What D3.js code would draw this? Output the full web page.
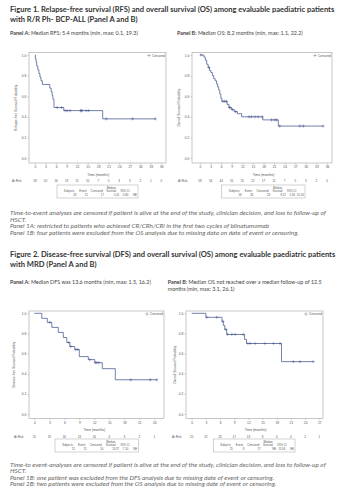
<!DOCTYPE html>
<html>
<head>
<meta charset="utf-8">
<script src="https://cdn.jsdelivr.net/npm/d3@7"></script>
<style>
  body { margin: 0; background: #fff; }
  svg { display: block; }
</style>
</head>
<body>
<svg id="chart" width="353" height="500"></svg>
<script>
// Kaplan-Meier panels, two figures with two panels each

// ---- data ----
const yTicks = [0, 0.2, 0.4, 0.6, 0.8, 1.0];
const fig1Ticks = [0, 3, 6, 9, 12, 15, 18, 21, 24, 27, 30, 33, 36];
const fig2aTicks = [0, 3, 6, 9, 12, 15, 18, 21, 24];
const fig2bTicks = [0, 3, 6, 9, 12, 15, 18, 21, 24, 27];

// Figure 1 A - relapse-free survival
const rfsTime = [0, 0.1, 0.3, 0.5, 0.8, 1.1, 1.4, 1.7, 2.1, 4.2, 4.6, 4.9, 5.1, 5.4, 8.2, 19.3];
const rfsSurv = [1, 0.964, 0.929, 0.893, 0.857, 0.821, 0.786, 0.75, 0.714, 0.679, 0.643, 0.607, 0.571, 0.49, 0.46, 0.38];
const rfsCensor = [6.3, 7.6, 8.6, 9.2, 10.0, 13.0, 13.2, 13.4, 14.6, 15.3, 20.3, 27.8, 34.3];
const rfsAtRisk = [28, 20, 16, 13, 11, 10, 7, 5, 3, 3, 2, 1, 0];
const rfsTable = ['28', '11', '17', '5.41', '0.80', 'NE'];

// Figure 1 B - overall survival
const os1Time = [0, 1.1, 1.5, 1.9, 2.3, 2.7, 3.1, 3.5, 3.9, 4.3, 4.7, 5.0, 5.3, 5.6, 5.9, 6.2, 7.7, 8.2, 8.9, 9.7, 10.6, 11.8, 17.8, 22.2];
const os1Surv = [1, 0.98, 0.95, 0.91, 0.88, 0.85, 0.83, 0.80, 0.77, 0.75, 0.72, 0.69, 0.66, 0.62, 0.58, 0.55, 0.52, 0.49, 0.47, 0.45, 0.43, 0.40, 0.37, 0.31];
const os1Censor = [0.3, 2.5, 6.5, 7.0, 7.5, 8.4, 8.5, 9.2, 10.1, 13.9, 14.6, 15.6, 16.5, 17.6, 20.3, 21.2, 21.7, 22.6, 28.3, 29.3, 34.9];
const os1AtRisk = [58, 54, 44, 31, 25, 22, 17, 11, 7, 5, 3, 2, 0];
const os1Table = ['58', '35', '23', '8.21', '5.80', '15.03'];

// Figure 2 A - disease-free survival
const dfsTime = [0, 1.5, 2.6, 3.5, 4.8, 5.8, 6.5, 7.1, 8.1, 9.0, 10.8, 12.1, 13.6, 16.2];
const dfsSurv = [1, 0.95, 0.91, 0.86, 0.81, 0.76, 0.71, 0.67, 0.64, 0.57, 0.54, 0.51, 0.45, 0.34];
const dfsCensor = [3.1, 6.9, 7.3, 8.3, 8.7, 11.1, 12.2, 12.5, 12.9, 19.3, 23.2, 24.5];
const dfsAtRisk = [21, 19, 16, 13, 10, 6, 3, 2, 1];
const dfsTable = ['21', '11', '10', '13.57', '7.10', 'NE'];

// Figure 2 B - overall survival
const os2Time = [0, 3.0, 6.4, 6.7, 7.0, 7.4, 11.2, 11.6, 19.0];
const os2Surv = [1, 0.96, 0.92, 0.88, 0.84, 0.79, 0.74, 0.70, 0.52];
const os2Censor = [3.2, 5.3, 6.6, 7.2, 7.6, 8.5, 9.2, 10.9, 11.9, 12.4, 13.4, 15.5, 17.3, 18.7, 21.5, 22.9, 25.7];
const os2AtRisk = [25, 25, 23, 17, 13, 9, 6, 4, 2, 1];
const os2Table = ['25', '8', '17', 'NE', '11.84', 'NE'];

const tableHeader = ['Subjects', 'Event', 'Censored', 'Survival', '95% CI'];

// ---- drawing ----
const svg = d3.select('#chart');
const LINE = '#45558f';
const FRAME = '#8f8f8f';
const SMALL = '#555';
const SANS = 'Liberation Sans, Arial, sans-serif';
const BODY = 'Lato, "Open Sans", sans-serif';

svg.append('rect').attr('width', 353).attr('height', 500).attr('fill', '#fff');

// font size that makes a string span the given width
function fitSize(str, weight, style, target) {
    const t = svg.append('text')
        .attr('font-family', BODY)
        .attr('font-weight', weight)
        .attr('font-style', style)
        .attr('font-size', 10)
        .text(str);
    const w = t.node().getComputedTextLength();
    t.remove();
    return 10 * target / w;
}

function survAt(times, surv, t) {
    const i = d3.bisectRight(times, t) - 1;
    return surv[Math.max(0, i)];
}

function drawKM(p) {
    const g = svg.append('g');
    const x = d3.scaleLinear()
        .domain([p.ticks[0], p.ticks[p.ticks.length - 1]])
        .range(p.xr);
    const y = d3.scaleLinear().domain([0, 1]).range(p.yr);
    const [fx0, fy0, fx1, fy1] = p.frame;

    g.append('rect')
        .attr('x', fx0).attr('y', fy0)
        .attr('width', fx1 - fx0).attr('height', fy1 - fy0)
        .attr('fill', 'none')
        .attr('stroke', FRAME)
        .attr('stroke-width', 0.5);

    const xAxis = g.append('g')
        .attr('transform', `translate(0,${fy1})`)
        .call(d3.axisBottom(x).tickValues(p.ticks).tickSize(1.5).tickPadding(1.2));
    const yAxis = g.append('g')
        .attr('transform', `translate(${fx0},0)`)
        .call(d3.axisLeft(y).tickValues(yTicks).tickFormat(d3.format('.1f')).tickSize(1.5).tickPadding(1.2));
    [xAxis, yAxis].forEach(a => {
        a.select('.domain').remove();
        a.selectAll('line').attr('stroke', FRAME).attr('stroke-width', 0.4);
        a.selectAll('text')
            .attr('font-family', SANS)
            .attr('font-size', 3.3)
            .attr('fill', SMALL);
    });

    // step curve, carried to the last censored time
    const pts = p.time.map((t, i) => [t, p.surv[i]]);
    const tEnd = Math.max(d3.max(p.censor), p.time[p.time.length - 1]);
    pts.push([tEnd, p.surv[p.surv.length - 1]]);
    g.append('path')
        .attr('d', d3.line().x(d => x(d[0])).y(d => y(d[1])).curve(d3.curveStepAfter)(pts))
        .attr('fill', 'none')
        .attr('stroke', LINE)
        .attr('stroke-width', 0.75);

    // censor marks
    const cs = 1.6;
    const marks = g.selectAll('.cens')
        .data(p.censor)
        .enter().append('g')
        .attr('transform', t => `translate(${x(t)},${y(survAt(p.time, p.surv, t))})`);
    marks.append('line').attr('x1', -cs).attr('x2', cs)
        .attr('stroke', LINE).attr('stroke-width', 0.45);
    marks.append('line').attr('y1', -cs).attr('y2', cs)
        .attr('stroke', LINE).attr('stroke-width', 0.45);

    // legend
    const lg = g.append('g').attr('transform', `translate(${fx1 - 17},${fy0 + 3})`);
    lg.append('line').attr('x1', -1.8).attr('x2', 1.8).attr('stroke', '#666').attr('stroke-width', 0.4);
    lg.append('line').attr('y1', -1.8).attr('y2', 1.8).attr('stroke', '#666').attr('stroke-width', 0.4);
    lg.append('text').attr('x', 3).attr('y', 1)
        .attr('font-family', SANS).attr('font-size', 3).attr('fill', SMALL)
        .text('Censored');

    // axis titles
    g.append('text')
        .attr('transform', `translate(${p.ylabX},${(fy0 + fy1) / 2}) rotate(-90)`)
        .attr('text-anchor', 'middle')
        .attr('font-family', SANS).attr('font-size', 3.2).attr('fill', SMALL)
        .text(p.ylabel);
    g.append('text')
        .attr('x', (p.xr[0] + p.xr[1]) / 2)
        .attr('y', p.timeY)
        .attr('text-anchor', 'middle')
        .attr('font-family', SANS).attr('font-size', 3.4).attr('fill', SMALL)
        .text('Time (months)');

    // numbers at risk
    g.append('text')
        .attr('x', p.riskX).attr('y', p.riskY)
        .attr('font-family', SANS).attr('font-size', 3).attr('fill', SMALL)
        .text('At Risk');
    g.selectAll('.risk')
        .data(p.atRisk)
        .enter().append('text')
        .attr('x', (d, i) => x(p.ticks[i]))
        .attr('y', p.riskY)
        .attr('text-anchor', 'middle')
        .attr('font-family', SANS).attr('font-size', 3).attr('fill', SMALL)
        .text(d => d);

    // summary table
    const [bx0, by0, bx1, by1] = p.box;
    const bw = bx1 - bx0;
    g.append('rect')
        .attr('x', bx0).attr('y', by0)
        .attr('width', bw).attr('height', by1 - by0)
        .attr('fill', '#fff')
        .attr('stroke', FRAME).attr('stroke-width', 0.4);
    const hx = [0.15, 0.32, 0.49, 0.67, 0.84];
    g.append('text')
        .attr('x', bx0 + bw * 0.67).attr('y', by0 + 3.6)
        .attr('text-anchor', 'middle')
        .attr('font-family', SANS).attr('font-size', 2.8).attr('fill', SMALL)
        .text('Median');
    g.selectAll('.th')
        .data(tableHeader)
        .enter().append('text')
        .attr('x', (d, i) => bx0 + bw * hx[i])
        .attr('y', by0 + 7)
        .attr('text-anchor', 'middle')
        .attr('font-family', SANS).attr('font-size', 2.8).attr('fill', SMALL)
        .text(d => d);
    const vx = [0.24, 0.38, 0.58, 0.77, 0.88, 0.985];
    g.selectAll('.td')
        .data(p.table)
        .enter().append('text')
        .attr('x', (d, i) => bx0 + bw * vx[i])
        .attr('y', by0 + 10.6)
        .attr('text-anchor', 'end')
        .attr('font-family', SANS).attr('font-size', 2.8).attr('fill', SMALL)
        .text(d => d);
}

// ---- text blocks ----
const TITLE = '#333';
const title1 = ['Figure 1. Relapse-free survival (RFS) and overall survival (OS) among evaluable paediatric patients',
                'with R/R Ph- BCP-ALL (Panel A and B)'];
const title2 = ['Figure 2. Disease-free survival (DFS) and overall survival (OS) among evaluable paediatric patients',
                'with MRD (Panel A and B)'];
const titleSize = fitSize(title1[0], 700, 'normal', 325);

function drawTitle(lines, y0) {
    lines.forEach((s, i) => {
        svg.append('text')
            .attr('x', 10).attr('y', y0 + i * 10)
            .attr('font-family', BODY).attr('font-weight', 700)
            .attr('font-size', titleSize).attr('fill', TITLE)
            .text(s);
    });
}

const panelSize = fitSize('Panel A: Median RFS: 5.4 months (min, max: 0.1, 19.3)', 'normal', 'normal', 128);
function drawPanelLabel(x, y, head, rest) {
    const t = svg.append('text')
        .attr('x', x).attr('y', y)
        .attr('font-family', BODY).attr('font-size', panelSize).attr('fill', '#444');
    t.append('tspan').attr('font-weight', 700).text(head);
    t.append('tspan').text(rest);
}

const note1 = ['Time-to-event analyses are censored if patient is alive at the end of the study, clinician decision, and loss to follow-up of',
               'HSCT.',
               'Panel 1A: restricted to patients who achieved CR/CRh/CRi in the first two cycles of blinatumomab',
               'Panel 1B: four patients were excluded from the OS analysis due to missing data on date of event or censoring.'];
const note2 = ['Time-to event-analyses are censored if patient is alive at the end of the study, clinician decision, and loss to follow-up of',
               'HSCT.',
               'Panel 1B: one patient was excluded from the DFS analysis due to missing date of event or censoring.',
               'Panel 2B: two patients were excluded from the OS analysis due to missing date of event or censoring.'];
const noteSize = fitSize(note1[0], 'normal', 'italic', 316);
function drawNote(lines, y0) {
    lines.forEach((s, i) => {
        svg.append('text')
            .attr('x', 10).attr('y', y0 + i * 6.5)
            .attr('font-family', BODY).attr('font-style', 'italic')
            .attr('font-size', noteSize).attr('fill', '#666')
            .text(s);
    });
}

// ---- figure 1 ----
drawTitle(title1, 12);
drawPanelLabel(10, 34.5, 'Panel A: ', 'Median RFS: 5.4 months (min, max: 0.1, 19.3)');
drawPanelLabel(177, 34.5, 'Panel B: ', 'Median OS: 8.2 months (min, max: 1.1, 22.2)');

drawKM({
    frame: [29, 52.5, 166, 163], xr: [35, 161.3], yr: [158, 55],
    ticks: fig1Ticks, time: rfsTime, surv: rfsSurv, censor: rfsCensor,
    ylabel: 'Relapse-free Survival Probability', ylabX: 17,
    timeY: 176, riskX: 12, riskY: 182, atRisk: rfsAtRisk,
    box: [57, 185, 138, 198], table: rfsTable
});
drawKM({
    frame: [192, 52.5, 332, 163], xr: [200, 327], yr: [158, 55],
    ticks: fig1Ticks, time: os1Time, surv: os1Surv, censor: os1Censor,
    ylabel: 'Overall Survival Probability', ylabX: 180,
    timeY: 176, riskX: 178, riskY: 182, atRisk: os1AtRisk,
    box: [221.7, 185, 305, 198], table: os1Table
});
drawNote(note1, 215);

// ---- figure 2 ----
drawTitle(title2, 257);
drawPanelLabel(10, 284, 'Panel A: ', 'Median DFS was 13.6 months (min, max: 1.5, 16.2)');
drawPanelLabel(167.7, 284, 'Panel B: ', 'Median OS not reached over a median follow-up of 12.5');
svg.append('text')
    .attr('x', 167.7).attr('y', 290.5)
    .attr('font-family', BODY).attr('font-size', panelSize).attr('fill', '#444')
    .text('months (min, max: 3.1, 26.1)');

drawKM({
    frame: [29, 311, 164, 418.5], xr: [34.3, 154.3], yr: [414, 313.3],
    ticks: fig2aTicks, time: dfsTime, surv: dfsSurv, censor: dfsCensor,
    ylabel: 'Disease-free Survival Probability', ylabX: 15,
    timeY: 430.5, riskX: 14, riskY: 437.5, atRisk: dfsAtRisk,
    box: [55, 439, 138.3, 452], table: dfsTable
});
drawKM({
    frame: [186, 311, 323, 418.5], xr: [191.7, 319.3], yr: [414, 313.3],
    ticks: fig2bTicks, time: os2Time, surv: os2Surv, censor: os2Censor,
    ylabel: 'Overall Survival Probability', ylabX: 176,
    timeY: 430.5, riskX: 172, riskY: 437.5, atRisk: os2AtRisk,
    box: [213.3, 439, 295, 452], table: os2Table
});
drawNote(note2, 466.5);
</script>
</body>
</html>
